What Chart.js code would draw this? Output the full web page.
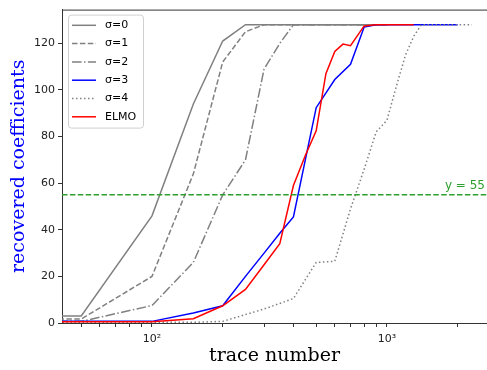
<!DOCTYPE html>
<html>
<head>
<meta charset="utf-8">
<script src="https://cdn.jsdelivr.net/npm/chart.js@4/dist/chart.umd.min.js"></script>
<style>
  html, body { margin: 0; padding: 0; background: #fff; }
  #wrap { width: 487px; height: 370px; }
</style>
</head>
<body>
<div id="wrap"><canvas id="chart" width="487" height="370"></canvas></div>
<script>
// values
const sigma0X = [40, 50, 100, 150, 200, 250, 300, 400, 500, 600, 700, 800, 900, 1000];
const sigma0Y = [3, 3, 46, 94, 121, 128, 128, 128, 128, 128, 128, 128, 128, 128];

const sigma1X = [40, 50, 100, 150, 200, 250, 300, 400, 500, 600, 700, 800, 900, 1000];
const sigma1Y = [1.7, 1.7, 20, 64, 112, 125, 128, 128, 128, 128, 128, 128, 128, 128];

const sigma2X = [40, 50, 100, 150, 200, 250, 300, 350, 400, 500, 600, 700, 800, 900, 1000];
const sigma2Y = [0.7, 0.7, 7.5, 26, 55, 70, 109, 120, 128, 128, 128, 128, 128, 128, 128];

const sigma3X = [40, 50, 100, 150, 200, 250, 300, 350, 400, 500, 600, 700, 800, 900, 1000, 1500, 2000];
const sigma3Y = [0.7, 0.7, 0.7, 4.3, 7.4, 20, 30, 38.5, 45.5, 92.4, 104.5, 111, 127, 128, 128, 128, 128];

const sigma4X = [40, 100, 150, 200, 300, 400, 500, 600, 700, 800, 900, 1000, 1100, 1200, 1300, 1400, 2300];
const sigma4Y = [0.3, 0.3, 0.3, 0.7, 6, 10.5, 26, 26.5, 49, 66, 82, 87, 102, 115, 123, 128, 128];

const elmoX = [40, 50, 100, 150, 200, 250, 300, 350, 400, 450, 500, 550, 600, 650, 700, 800, 900, 1000, 1300];
const elmoY = [0.5, 0.5, 0.5, 1.8, 7.4, 14.4, 25, 34, 59, 72, 82.5, 107, 116.5, 119.7, 119, 127.5, 128, 128, 128];

const seriesLabels = ['σ=0', 'σ=1', 'σ=2', 'σ=3', 'σ=4', 'ELMO'];
const threshold = 55;
const xTickLabels = { 100: '10²', 1000: '10³' };

const GRAY = '#808080';
const DASHED = [5.5, 2.4];
const DASHDOT = [9.6, 2.4, 1.5, 2.4];
const DOTTED = [1.5, 2.5];

function pts(xs, ys) {
  return xs.map((x, i) => ({ x, y: ys[i] }));
}

function line(label, data, color, dash, order) {
  return {
    label,
    data,
    borderColor: color,
    backgroundColor: color,
    borderWidth: 1.5,
    borderDash: dash,
    pointRadius: 0,
    fill: false,
    tension: 0,
    order
  };
}

const datasets = [
  line(seriesLabels[0], pts(sigma0X, sigma0Y), GRAY, [], 6),
  line(seriesLabels[1], pts(sigma1X, sigma1Y), GRAY, DASHED, 5),
  line(seriesLabels[2], pts(sigma2X, sigma2Y), GRAY, DASHDOT, 4),
  line(seriesLabels[3], pts(sigma3X, sigma3Y), '#0000ff', [], 3),
  line(seriesLabels[4], pts(sigma4X, sigma4Y), GRAY, DOTTED, 2),
  line(seriesLabels[5], pts(elmoX, elmoY), '#ff0000', [], 1)
];

// horizontal threshold, top spine and the boxed legend
const extras = {
  id: 'extras',
  afterDatasetsDraw(chart) {
    const { ctx, chartArea: a, scales } = chart;
    const yPix = scales.y.getPixelForValue(threshold);

    ctx.save();
    ctx.strokeStyle = '#2ca02c';
    ctx.lineWidth = 1.5;
    ctx.setLineDash([5.5, 2.4]);
    ctx.beginPath();
    ctx.moveTo(a.left, yPix);
    ctx.lineTo(a.right, yPix);
    ctx.stroke();
    ctx.setLineDash([]);

    ctx.fillStyle = '#2ca02c';
    ctx.font = '12px "DejaVu Sans"';
    ctx.textAlign = 'right';
    ctx.textBaseline = 'alphabetic';
    ctx.fillText('y = ' + threshold, a.right - 2, yPix - 6);

    ctx.strokeStyle = '#333';
    ctx.lineWidth = 1;
    ctx.beginPath();
    ctx.moveTo(a.left, a.top + 0.5);
    ctx.lineTo(a.right, a.top + 0.5);
    ctx.stroke();

    // legend
    const bx = a.left + 6, by = a.top + 5, bw = 75, bh = 113;
    ctx.fillStyle = 'rgba(255,255,255,0.8)';
    ctx.strokeStyle = '#d0d0d0';
    ctx.beginPath();
    ctx.roundRect(bx + 0.5, by + 0.5, bw, bh, 3);
    ctx.fill();
    ctx.stroke();

    ctx.font = '11px "DejaVu Sans"';
    ctx.textAlign = 'left';
    ctx.textBaseline = 'middle';
    chart.data.datasets.forEach((ds, i) => {
      const ry = by + 10.7 + i * 18.3;
      ctx.strokeStyle = ds.borderColor;
      ctx.lineWidth = 1.5;
      ctx.setLineDash(ds.borderDash);
      ctx.beginPath();
      ctx.moveTo(bx + 4, ry);
      ctx.lineTo(bx + 28, ry);
      ctx.stroke();
      ctx.setLineDash([]);
      ctx.fillStyle = '#000';
      ctx.fillText(ds.label, bx + 37, ry);
    });
    ctx.restore();
  }
};

new Chart(document.getElementById('chart'), {
  type: 'line',
  data: { datasets },
  plugins: [extras],
  options: {
    responsive: false,
    animation: false,
    layout: { padding: { top: 3, right: 0, left: 0, bottom: 0 } },
    plugins: { legend: { display: false }, tooltip: { enabled: false } },
    scales: {
      x: {
        type: 'logarithmic',
        min: 41.4,
        max: 2667,
        afterFit: s => { s.height = 47; },
        afterBuildTicks: s => {
          s.ticks = s.ticks.filter(t => {
            const e = Math.pow(10, Math.floor(Math.log10(t.value) + 1e-9));
            const m = t.value / e;
            return Math.abs(m - Math.round(m)) < 1e-6;
          });
        },
        ticks: {
          autoSkip: false,
          maxRotation: 0,
          padding: 6,
          color: '#222',
          font: { family: 'DejaVu Sans', size: 11 },
          callback: v => xTickLabels[Math.round(v)] || ''
        },
        grid: { drawOnChartArea: false, tickLength: 4, tickColor: '#333' },
        border: { color: '#333', width: 1 },
        title: {
          display: true,
          text: 'trace number',
          color: '#000',
          font: { family: 'DejaVu Serif', size: 19 },
          padding: { top: 0, bottom: 3 }
        }
      },
      y: {
        min: 0,
        max: 134.5,
        afterFit: s => { s.width = 62; },
        afterBuildTicks: s => {
          s.ticks = s.ticks.filter(t => t.value % 20 === 0);
        },
        ticks: {
          stepSize: 20,
          padding: 3,
          color: '#222',
          font: { family: 'DejaVu Sans', size: 11 }
        },
        grid: { drawOnChartArea: false, tickLength: 4, tickColor: '#333' },
        border: { color: '#333', width: 1 },
        title: {
          display: true,
          text: 'recovered coefficients',
          color: '#0000ff',
          font: { family: 'DejaVu Serif', size: 19 },
          padding: { top: 8, bottom: 0 }
        }
      }
    }
  }
});
</script>
</body>
</html>
